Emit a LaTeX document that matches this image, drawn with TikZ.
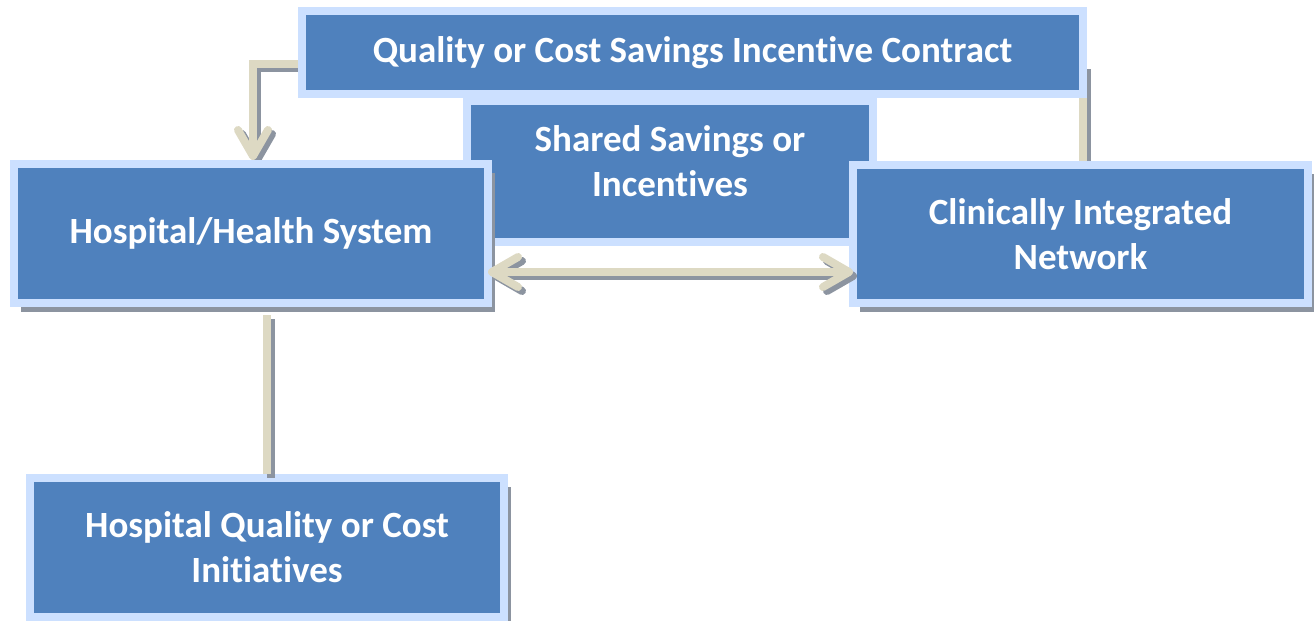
\documentclass[tikz,border=0pt]{standalone}
\usepackage{fontspec}
\setmainfont{Carlito}[Ligatures=NoCommon]
\usetikzlibrary{shadows,arrows.meta,calc,backgrounds}
\definecolor{boxblue}{RGB}{79,129,189}
\definecolor{rimblue}{RGB}{204,224,255}
\definecolor{linetan}{RGB}{221,217,195}
\definecolor{shadowgrey}{RGB}{140,148,160}

\begin{document}
\begin{tikzpicture}[x=0.5pt,y=-0.5pt,
		lbl/.style={text=white, font=\bfseries\fontsize{18.5}{22.5}\selectfont, align=center},
		box/.style={lbl, draw=rimblue, line width=4pt, fill=boxblue, inner sep=0pt, outer sep=0pt},
		boxshadow/.style={drop shadow={shadow xshift=3.5pt, shadow yshift=-4.5pt, fill=shadowgrey, opacity=1}},
		conn/.style={draw=linetan, line width=4pt, preaction={draw=shadowgrey, line width=4pt, transform canvas={xshift=2pt, yshift=-2pt}}},
		chev/.tip={Straight Barb[length=13pt,width=15pt,line cap=round,line join=round]}]
		\useasboundingbox (0,0) rectangle (1314,621);
		\node[box, minimum width=390.5pt, minimum height=41.5pt] (contract) at (692.5,52.5) {Quality or Cost Savings Incentive Contract};
		\node[box, minimum width=203pt, minimum height=70.5pt] (shared) at (670,171.5) {};
		\node[lbl] (sharedtext) at ([yshift=5.25pt]shared.center) {Shared Savings or\\Incentives};
		\node[box, boxshadow, minimum width=237pt, minimum height=69.5pt] (hospital) at (251,233.5) {Hospital/Health System};
		\node[box, boxshadow, minimum width=227.5pt, minimum height=69pt] (network) at (1080.5,234) {Clinically Integrated\\Network};
		\node[box, boxshadow, minimum width=237pt, minimum height=69.5pt] (initiatives) at (267,547.5) {Hospital Quality or Cost\\Initiatives};
		\begin{scope}[on background layer]
			\draw[conn, -chev] ($(contract.west)+(0,11.5)$) -| ($(hospital.north)+(2,-4)$);
			\draw[conn] ($(contract.south east)+(0,-29)$) -- ($(contract.south east |- network.north)+(0,2)$);
		\end{scope}
		\draw[conn, chev-chev] ($(hospital.east)+(0,38.5)$) -- ($(network.west |- hospital.east)+(0,38.5)$);
		\draw[conn] ($(initiatives.north |- hospital.south)+(0,12)$) -- ($(initiatives.north)+(0,-4)$);
	\end{tikzpicture}
\end{document}
